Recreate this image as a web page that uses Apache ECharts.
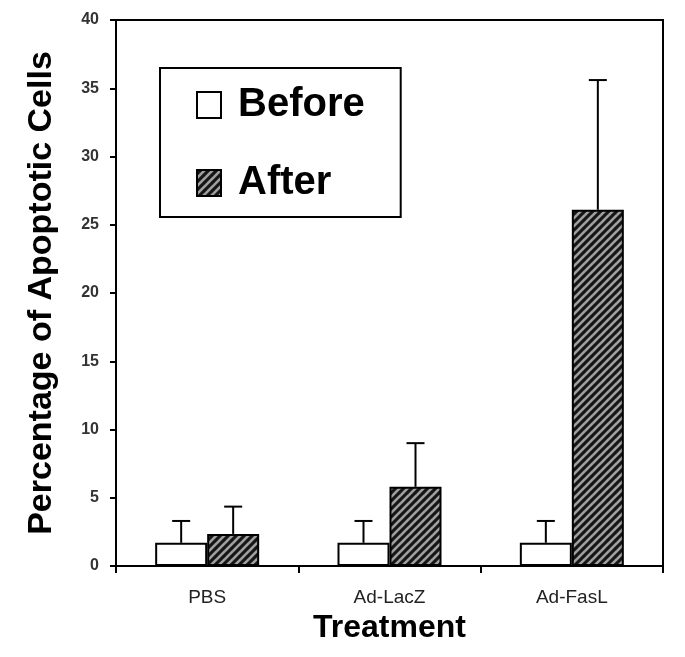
<!DOCTYPE html>
<html><head><meta charset="utf-8">
<script src="https://cdn.jsdelivr.net/npm/echarts@6/dist/echarts.min.js"></script>
<style>html,body{margin:0;padding:0;background:#fff}#c{width:685px;height:657px}</style>
</head><body><div id="c"></div>
<script>
var categories = ['PBS', 'Ad-LacZ', 'Ad-FasL'];
var beforeValues = [1.7, 1.7, 1.7];
var beforeErrors = [1.6, 1.6, 1.6];
var afterValues = [2.35, 5.8, 26.1];
var afterErrors = [2.0, 3.2, 9.5];
var yTicks = [0, 5, 10, 15, 20, 25, 30, 35, 40];

var tile = document.createElement('canvas');
tile.width = 8; tile.height = 8;
var g = tile.getContext('2d');
g.fillStyle = '#151515'; g.fillRect(0, 0, 8, 8);
g.strokeStyle = '#a0a0a0'; g.lineWidth = 2.6;
[0, 8, 16].forEach(function (k) { g.beginPath(); g.moveTo(k - 10, 10); g.lineTo(k + 10, -10); g.stroke(); });
var hatch = { image: tile, repeat: 'repeat' };

var BW = 52;
function errSeries(vals, errs, side) {
  return {
    type: 'custom', silent: true, z: 1,
    data: vals.map(function (v, i) { return [i, v, v + errs[i]]; }),
    renderItem: function (params, api) {
      var lo = api.coord([api.value(0), api.value(1)]);
      var hi = api.coord([api.value(0), api.value(2)]);
      var x = lo[0] + side * BW / 2;
      var st = { stroke: '#000', lineWidth: 2 };
      return { type: 'group', children: [
        { type: 'line', shape: { x1: x, y1: lo[1], x2: x, y2: hi[1] }, style: st },
        { type: 'line', shape: { x1: x - 9, y1: hi[1], x2: x + 9, y2: hi[1] }, style: st }
      ] };
    }
  };
}

var chart = echarts.init(document.getElementById('c'), null, { renderer: 'canvas' });
chart.setOption({
  animation: false,
  textStyle: { fontFamily: 'Liberation Sans' },
  grid: { left: 116, right: 22, top: 20, bottom: 91, show: true, borderColor: '#000', borderWidth: 2, backgroundColor: 'transparent' },
  legend: {
    orient: 'vertical', left: 160, top: 68,
    data: ['Before', 'After'],
    borderColor: '#000', borderWidth: 2, padding: [17, 36, 14, 36],
    itemWidth: 24, itemHeight: 26, itemGap: 38,
    icon: 'rect',
    textStyle: { fontSize: 40, fontWeight: 'bold', color: '#000', lineHeight: 40, padding: [0, 0, 0, 12], fontFamily: 'Liberation Sans' }
  },
  xAxis: {
    type: 'category', data: categories,
    name: 'Treatment', nameLocation: 'middle', nameGap: 43,
    nameTextStyle: { fontSize: 32, fontWeight: 'bold', color: '#000' },
    axisLine: { lineStyle: { color: '#000', width: 2 } },
    axisTick: { show: true, length: 7, lineStyle: { color: '#000', width: 2 } },
    axisLabel: { fontSize: 19, color: '#222', margin: 22 }
  },
  yAxis: {
    type: 'value', min: 0, max: 40, interval: 5,
    name: 'Percentage of Apoptotic Cells', nameLocation: 'middle', nameGap: 57,
    nameTextStyle: { fontSize: 34, fontWeight: 'bold', color: '#000' },
    axisLine: { show: true, lineStyle: { color: '#000', width: 2 } },
    axisTick: { show: true, length: 6, lineStyle: { color: '#000', width: 2 } },
    splitLine: { show: false },
    axisLabel: { fontSize: 16, fontWeight: 'bold', color: '#333', margin: 17,
      formatter: function (v) { return yTicks.indexOf(v) >= 0 ? String(v) : ''; } }
  },
  series: [
    { name: 'Before', type: 'bar', data: beforeValues, barWidth: BW, barGap: '0%', z: 2,
      itemStyle: { color: '#fff', borderColor: '#000', borderWidth: 2 } },
    { name: 'After', type: 'bar', data: afterValues, barWidth: BW, barGap: '0%', z: 2,
      itemStyle: { color: hatch, borderColor: '#000', borderWidth: 2 } },
    errSeries(beforeValues, beforeErrors, -1),
    errSeries(afterValues, afterErrors, 1)
  ]
});
</script></body></html>
